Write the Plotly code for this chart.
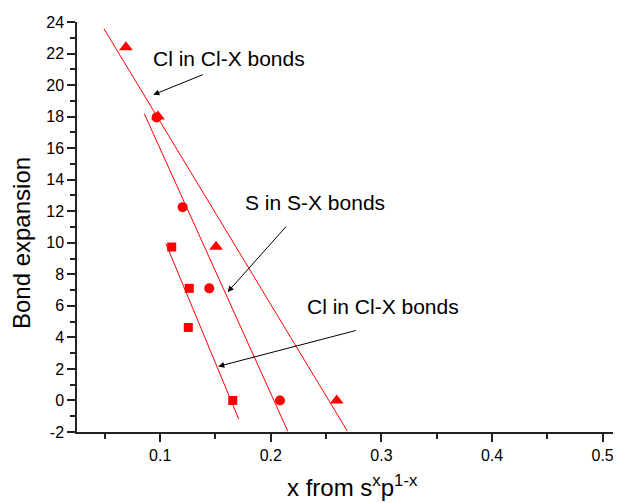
import plotly.graph_objects as go

# ---- data ----
# triangles (Cl in Cl-X, upper series)
tri_x = [0.069, 0.098, 0.1505, 0.2596]
tri_y = [22.4, 18.0, 9.75, 0.0]
# circles (S in S-X)
cir_x = [0.0968, 0.1203, 0.1444, 0.2083]
cir_y = [17.95, 12.26, 7.11, 0.0]
# squares (Cl in Cl-X, lower series)
sq_x = [0.1104, 0.1263, 0.1254, 0.1656]
sq_y = [9.73, 7.11, 4.63, 0.0]

# fitted lines (end points)
fit_tri_x = [0.0492, 0.2692]
fit_tri_y = [23.57, -1.94]
fit_cir_x = [0.0856, 0.2153]
fit_cir_y = [18.19, -1.94]
fit_sq_x = [0.1052, 0.171]
fit_sq_y = [9.94, -1.18]

y_tickvals = [-2, 0, 2, 4, 6, 8, 10, 12, 14, 16, 18, 20, 22, 24]
y_ticktext = ["-2", "0", "2", "4", "6", "8", "10", "12", "14", "16", "18", "20", "22", "24"]
x_tickvals = [0.1, 0.2, 0.3, 0.4, 0.5]
x_ticktext = ["0.1", "0.2", "0.3", "0.4", "0.5"]

labels = ["Cl in Cl-X bonds", "S in S-X bonds", "Cl in Cl-X bonds"]
label_x = [0.1621, 0.2400, 0.3017]
label_y = [21.67, 12.54, 5.93]
arrow_x = [0.0938, 0.1610, 0.1525]
arrow_y = [19.39, 6.88, 2.16]
arrow_tail_x = [0.1399, 0.2150, 0.2782]
arrow_tail_y = [20.70, 11.12, 4.46]

x_title = "x from s<sup>x</sup>p<sup>1-x</sup>"
y_title = "Bond expansion"

RED = "#FF0000"
FONT = "Liberation Sans, Arial, sans-serif"

fig = go.Figure()
for fx, fy in [(fit_tri_x, fit_tri_y), (fit_cir_x, fit_cir_y), (fit_sq_x, fit_sq_y)]:
    fig.add_trace(go.Scatter(x=fx, y=fy, mode="lines",
                             line=dict(color=RED, width=1), showlegend=False,
                             hoverinfo="skip"))

fig.add_trace(go.Scatter(x=tri_x, y=tri_y, mode="markers",
                         marker=dict(symbol="triangle-up", size=12, color=RED),
                         showlegend=False))
fig.add_trace(go.Scatter(x=cir_x, y=cir_y, mode="markers",
                         marker=dict(symbol="circle", size=10, color=RED),
                         showlegend=False))
fig.add_trace(go.Scatter(x=sq_x, y=sq_y, mode="markers",
                         marker=dict(symbol="square", size=9, color=RED),
                         showlegend=False))

for t, tx, ty in zip(labels, label_x, label_y):
    fig.add_annotation(x=tx, y=ty, text=t, showarrow=False,
                       font=dict(family=FONT, size=21, color="black"))

for hx, hy, txx, tyy in zip(arrow_x, arrow_y, arrow_tail_x, arrow_tail_y):
    fig.add_annotation(x=hx, y=hy, ax=txx, ay=tyy, axref="x", ayref="y",
                       text="", showarrow=True, arrowhead=2, arrowsize=1.2,
                       arrowwidth=1, arrowcolor="black")

# axis titles as annotations for exact placement
fig.add_annotation(x=-0.101, y=0.461, xref="paper", yref="paper",
                   text=y_title, textangle=-90, showarrow=False,
                   xanchor="center", yanchor="middle",
                   font=dict(family=FONT, size=24, color="black"))
fig.add_annotation(x=0.507, y=-0.173, xref="paper", yref="paper",
                   text=x_title, showarrow=False,
                   xanchor="center", yanchor="bottom",
                   font=dict(family=FONT, size=24, color="black"))

axis_common = dict(showgrid=False, zeroline=False, showline=True,
                   linecolor="#222", linewidth=1.5, ticks="outside",
                   tickcolor="#222", tickwidth=1.5, ticklen=8,
                   tickfont=dict(family=FONT, size=16, color="black"),
                   mirror=False, automargin=False)

fig.update_xaxes(range=[0.0248, 0.5166], tickmode="array",
                 tickvals=x_tickvals, ticktext=x_ticktext,
                 minor=dict(dtick=0.05, tick0=0.0, ticks="outside", ticklen=5,
                            tickcolor="#222", tickwidth=1.5),
                 **axis_common)
fig.update_yaxes(range=[-2, 24], tickmode="array",
                 tickvals=y_tickvals, ticktext=y_ticktext,
                 minor=dict(dtick=1, tick0=0, ticks="outside", ticklen=5,
                            tickcolor="#222", tickwidth=1.5),
                 **axis_common)

# page body has an 8px default margin, so the figure is offset by 8px
fig.update_layout(width=613, height=495,
                  margin=dict(l=69, r=0, t=14, b=71),
                  plot_bgcolor="white", paper_bgcolor="white",
                  font=dict(family=FONT))

fig.write_html("out.html")
